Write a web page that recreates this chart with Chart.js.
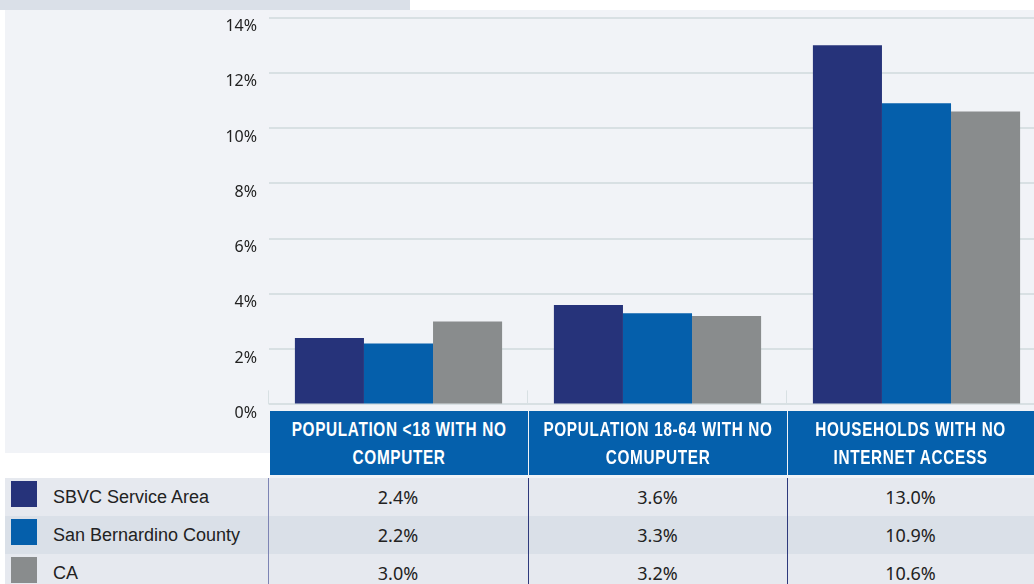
<!DOCTYPE html>
<html>
<head>
<meta charset="utf-8">
<script src="https://cdn.jsdelivr.net/npm/chart.js@4"></script>
<style>
  html, body { margin: 0; padding: 0; width: 1034px; height: 584px; overflow: hidden; background: #fff; }
  #strip { position: absolute; left: 0; top: 0; width: 410px; height: 10px; background: #dae0e8; }
  #panel { position: absolute; left: 5px; top: 10px; width: 1029px; height: 443px; background: #f1f3f7; }
  #panel2 { position: absolute; left: 270px; top: 453px; width: 764px; height: 25px; background: #f1f3f7; }
  #wrap { position: absolute; left: 5px; top: 10px; width: 1041px; }
  .head { position: absolute; top: 411px; height: 64px; background: #0560ac; color: #fff;
    display: flex; align-items: center; justify-content: center; overflow: hidden; }
  .head span { display: inline-block; white-space: nowrap; text-align: center;
    font-family: "Liberation Sans", Arial, sans-serif; font-weight: bold; font-size: 21px;
    letter-spacing: 0.9px; line-height: 28px; transform: scaleX(0.73); }
  .row { position: absolute; left: 5px; width: 1029px; height: 38px; }
  .cell { position: absolute; top: 0; height: 38px; line-height: 38px; font-size: 18px; color: #222;
    font-family: "Noto Sans", sans-serif; text-align: center; }
  .lab { position: absolute; left: 48px; top: 0; height: 38px; line-height: 38px; font-size: 18px; color: #222;
    font-family: "Liberation Sans", Arial, sans-serif; }
  .sw { position: absolute; left: 6px; top: 3px; width: 26px; height: 26px; }
  .div { position: absolute; top: 478px; height: 106px; width: 1px; }
</style>
</head>
<body>
<div id="strip"></div>
<div id="panel"></div>
<div id="panel2"></div>
<div id="wrap"><canvas id="chart" width="1041" height="400"></canvas></div>
<div id="table"></div>
<script>
var categories = ['POPULATION <18 WITH NO COMPUTER', 'POPULATION 18-64 WITH NO COMUPUTER', 'HOUSEHOLDS WITH NO INTERNET ACCESS'];
var headerLines = [['POPULATION <18 WITH NO', 'COMPUTER'], ['POPULATION 18-64 WITH NO', 'COMUPUTER'], ['HOUSEHOLDS WITH NO', 'INTERNET ACCESS']];
var seriesNames = ['SBVC Service Area', 'San Bernardino County', 'CA'];
var sbvc = [2.4, 3.6, 13.0];
var sbCounty = [2.2, 3.3, 10.9];
var ca = [3.0, 3.2, 10.6];
var yTicks = [0, 2, 4, 6, 8, 10, 12, 14];

var COLORS = ['#26337a', '#055fab', '#898c8d'];
var GRID = '#d8e0e3';
var PLOT_TOP = 18, PLOT_BOTTOM = 404;   // page y of the 14% and 0% lines

// short light marks between the categories, just above the zero line
var separators = {
    id: 'separators',
    afterDatasetsDraw: function (chart) {
        var x = chart.scales.x, area = chart.chartArea, ctx = chart.ctx;
        var w = x.getPixelForValue(1) - x.getPixelForValue(0);
        ctx.save();
        ctx.strokeStyle = GRID;
        ctx.lineWidth = 1;
        for (var i = 0; i <= categories.length; i++) {
            var px = Math.round(x.getPixelForValue(0) - w / 2 + i * w) - 0.5;
            ctx.beginPath();
            ctx.moveTo(px, area.bottom - 14);
            ctx.lineTo(px, area.bottom);
            ctx.stroke();
        }
        ctx.restore();
    }
};

function makeChart() {
    return new Chart(document.getElementById('chart'), {
        type: 'bar',
        data: {
            labels: categories,
            datasets: [
                { label: seriesNames[0], data: sbvc, backgroundColor: COLORS[0] },
                { label: seriesNames[1], data: sbCounty, backgroundColor: COLORS[1] },
                { label: seriesNames[2], data: ca, backgroundColor: COLORS[2] }
            ]
        },
        options: {
            responsive: false,
            maintainAspectRatio: false,
            animation: false,
            layout: { padding: 0 },
            datasets: { bar: { categoryPercentage: 0.8, barPercentage: 1.0 } },
            plugins: { legend: { display: false }, tooltip: { enabled: false } },
            scales: {
                x: { display: false },
                y: {
                    min: 0, max: 14,
                    afterFit: function (s) { s.width = 264; },
                    afterBuildTicks: function (s) { s.ticks = yTicks.map(function (v) { return { value: v }; }); },
                    border: { display: false },
                    grid: { color: GRID, lineWidth: 2, drawTicks: false },
                    ticks: {
                        padding: 12,
                        labelOffset: 9,
                        color: '#222',
                        font: { family: 'Noto Sans', size: 16 },
                        callback: function (v) { return v + '%'; }
                    }
                }
            }
        },
        plugins: [separators]
    });
}

// first pass: see how much room the y labels take above and below,
// then size and place the canvas so the plot lands where it should
var chart = makeChart();
var canvas = document.getElementById('chart');
var above = Math.round(chart.chartArea.top);
var below = Math.round(chart.height - chart.chartArea.bottom);
chart.destroy();
canvas.width = 1041;
canvas.height = (PLOT_BOTTOM - PLOT_TOP) + above + below;
document.getElementById('wrap').style.top = (PLOT_TOP - above) + 'px';
chart = makeChart();

// header cells and data table
var table = document.getElementById('table');
var colLeft = [270, 529, 788];
var colWidth = [258, 258, 246];
headerLines.forEach(function (lines, i) {
    var h = document.createElement('div');
    h.className = 'head';
    h.style.left = colLeft[i] + 'px';
    h.style.width = colWidth[i] + 'px';
    var s = document.createElement('span');
    s.innerHTML = lines.map(function (t) { return t.replace('<', '&lt;'); }).join('<br>');
    h.appendChild(s);
    table.appendChild(h);
});

var series = [sbvc, sbCounty, ca];
var rowBg = ['#e6e9ef', '#dae0e8', '#e6e9ef'];
var valueCols = [[263, 260], [523, 259], [782, 247]];
series.forEach(function (vals, r) {
    var row = document.createElement('div');
    row.className = 'row';
    row.style.top = (478 + r * 38) + 'px';
    row.style.background = rowBg[r];
    var sw = document.createElement('div');
    sw.className = 'sw';
    sw.style.background = COLORS[r];
    row.appendChild(sw);
    var lab = document.createElement('div');
    lab.className = 'lab';
    lab.textContent = seriesNames[r];
    row.appendChild(lab);
    vals.forEach(function (v, c) {
        var cell = document.createElement('div');
        cell.className = 'cell';
        cell.style.left = valueCols[c][0] + 'px';
        cell.style.width = valueCols[c][1] + 'px';
        cell.textContent = v.toFixed(1) + '%';
        row.appendChild(cell);
    });
    table.appendChild(row);
});

[[268, '#7d84b4'], [528, '#2e3a7c'], [787, '#2e3a7c']].forEach(function (d) {
    var el = document.createElement('div');
    el.className = 'div';
    el.style.left = d[0] + 'px';
    el.style.background = d[1];
    table.appendChild(el);
});
</script>
</body>
</html>
